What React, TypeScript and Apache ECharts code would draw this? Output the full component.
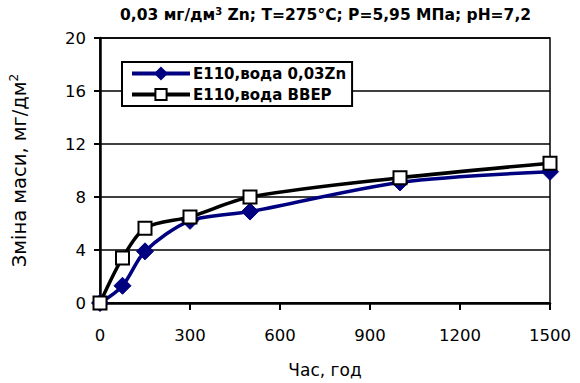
import React, { useEffect, useRef } from "react";
import * as echarts from "echarts";

const hours = [0, 75, 150, 300, 500, 1000, 1500];
const seriesZn = [0, 1.3, 3.9, 6.2, 6.9, 9.1, 9.9];
const seriesVver = [0, 3.4, 5.65, 6.5, 8.0, 9.45, 10.55];
const seriesNames = ["E110,вода 0,03Zn", "E110,вода ВВЕР"];
const xTicks = { min: 0, max: 1500, interval: 300 };
const yTicks = { min: 0, max: 20, interval: 4 };

const FONT = "'DejaVu Sans', 'Noto Sans', sans-serif";

export default function App() {
  const ref = useRef<HTMLDivElement>(null);
  useEffect(() => {
    if (!ref.current) return;
    const chart = echarts.init(ref.current, null, { renderer: "svg" });
    chart.setOption({
      animation: false,
      backgroundColor: "#ffffff",
      textStyle: { fontFamily: FONT },
      title: {
        text: "0,03 мг/дм{s|3} Zn; T=275°C; P=5,95 МПа; pH=7,2",
        left: 120,
        top: 6,
        padding: 0,
        textStyle: {
          fontFamily: FONT,
          fontSize: 15.5,
          fontWeight: "bold",
          color: "#000",
          rich: {
            s: { fontSize: 10, fontWeight: "bold", verticalAlign: "top", padding: [0, 0, 8, 0], fontFamily: FONT, color: "#000" },
          },
        },
      },
      legend: {
        orient: "vertical",
        left: 122,
        top: 62,
        padding: [4, 6, 4, 8],
        itemGap: 6,
        itemWidth: 58,
        itemHeight: 14,
        borderColor: "#000",
        borderWidth: 2,
        backgroundColor: "#fff",
        borderRadius: 0,
        lineStyle: { width: 4 },
        textStyle: { fontFamily: FONT, fontSize: 15, fontWeight: "bold", color: "#000", padding: [0, 0, 0, -2] },
        data: seriesNames,
      },
      grid: {
        left: 99,
        right: 30,
        top: 38,
        bottom: 80,
        show: true,
        borderColor: "#000",
        borderWidth: 1.5,
        backgroundColor: "transparent",
      },
      xAxis: {
        type: "value",
        min: xTicks.min,
        max: xTicks.max,
        interval: xTicks.interval,
        name: "Час, год",
        nameLocation: "middle",
        nameGap: 58,
        nameTextStyle: { fontFamily: FONT, fontSize: 17, color: "#000" },
        axisLine: { show: true, onZero: false, lineStyle: { color: "#000", width: 2.5 } },
        axisTick: { show: true, length: 7, inside: false, lineStyle: { color: "#000", width: 2 } },
        axisLabel: { fontFamily: FONT, fontSize: 16.5, color: "#000", margin: 24, formatter: (v: number) => String(v) },
        splitLine: { show: false },
      },
      yAxis: {
        type: "value",
        min: yTicks.min,
        max: yTicks.max,
        interval: yTicks.interval,
        name: "Зміна маси, мг/дм{s|2}",
        nameLocation: "middle",
        nameGap: 70,
        nameRotate: 90,
        nameTextStyle: {
          fontFamily: FONT,
          fontSize: 19.5,
          color: "#000",
          rich: {
            s: { fontSize: 12, verticalAlign: "top", padding: [0, 0, 10, 0], fontFamily: FONT, color: "#000" },
          },
        },
        axisLine: { show: true, onZero: false, lineStyle: { color: "#000", width: 2.5 } },
        axisTick: { show: true, length: 6, inside: false, lineStyle: { color: "#000", width: 2 } },
        axisLabel: { fontFamily: FONT, fontSize: 16.5, color: "#000", margin: 14, formatter: (v: number) => String(v) },
        splitLine: { show: true, lineStyle: { color: "#000", width: 1.5 } },
      },
      series: [
        {
          name: seriesNames[0],
          type: "line",
          data: hours.map((h, i) => [h, seriesZn[i]]),
          smooth: 0.3,
          symbol: "diamond",
          symbolSize: 17,
          lineStyle: { color: "#000080", width: 3.5 },
          itemStyle: { color: "#000080", borderColor: "#000080", borderWidth: 1 },
          z: 3,
        },
        {
          name: seriesNames[1],
          type: "line",
          data: hours.map((h, i) => [h, seriesVver[i]]),
          smooth: 0.3,
          symbol: "rect",
          symbolSize: 13,
          lineStyle: { color: "#000", width: 3.5 },
          itemStyle: { color: "#fff", borderColor: "#000", borderWidth: 2 },
          z: 4,
        },
      ],
    });
    return () => chart.dispose();
  }, []);
  return <div ref={ref} style={{ position: "absolute", left: 0, top: 0, width: 580, height: 383 }} />;
}
